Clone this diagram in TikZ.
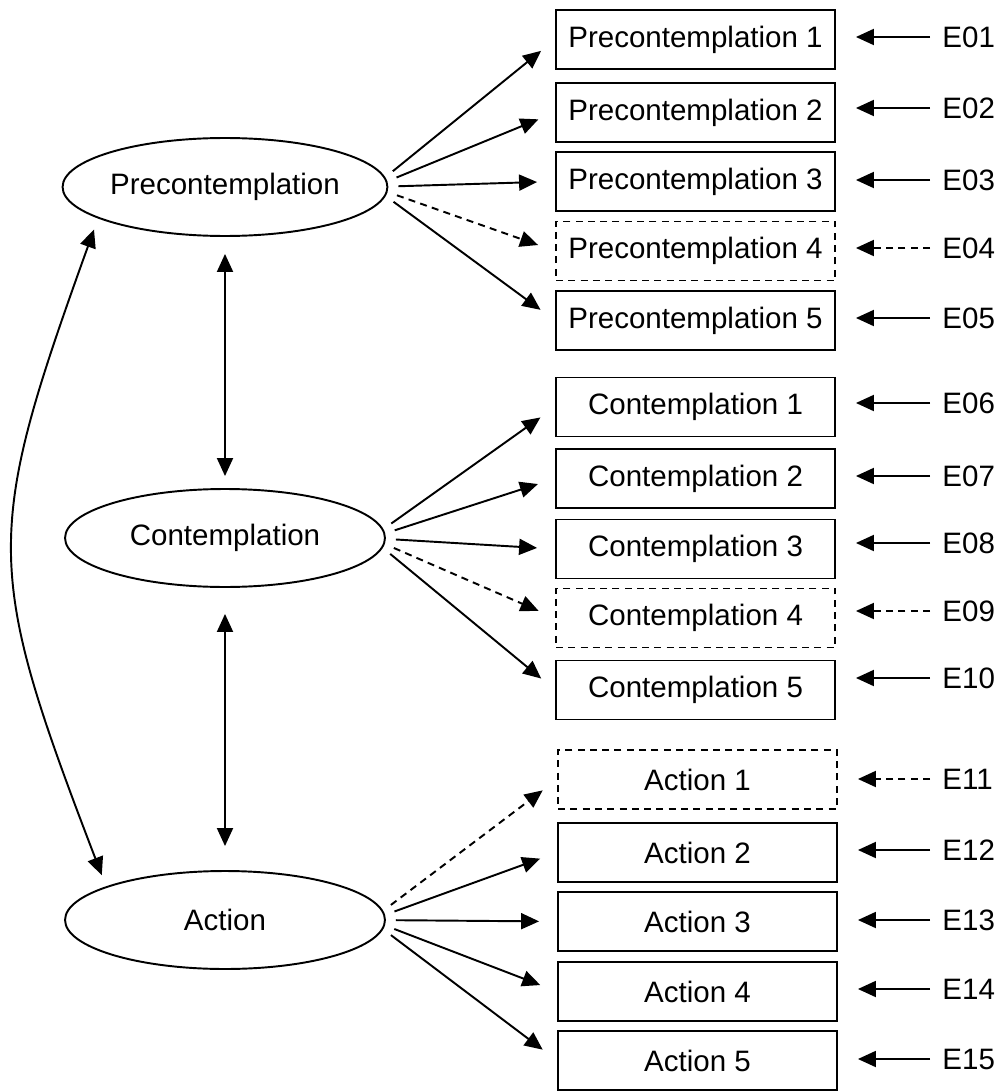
\documentclass[tikz,border=0pt]{standalone}
\usepackage{fontspec}
\setmainfont{Liberation Sans}
\usetikzlibrary{arrows.meta, calc, shapes.geometric}

\tikzset{
  every picture/.style={line width=1.1pt, >={Triangle[length=0.36cm, width=0.32cm]}},
  factor/.style={ellipse, draw, minimum width=6.4cm, minimum height=1.96cm, inner sep=0pt},
  item/.style={draw, minimum width=5.58cm, minimum height=1.18cm, inner sep=0pt},
  dsh/.style={dash pattern=on 4pt off 3pt},
  dashbox/.style={item, dsh},
  err/.style={anchor=west, inner sep=2pt},
  load/.style={->, shorten <=0.5cm, shorten >=0.36cm},
  resid/.style={->, shorten <=0.16cm, shorten >=0.4cm},
}

\begin{document}
\begin{tikzpicture}[x=0.02cm, y=-0.02cm, font=\fontsize{16.8}{20}\selectfont]
\path[use as bounding box] (0,0) rectangle (1000,1091);

\node[factor] (pre) at (225,187) {Precontemplation};
\node[factor] (con) at (225,538) {Contemplation};
\node[factor] (act) at (225,920) {Action};

\foreach \i/\y/\s in {1/39.5/item, 2/112.5/item, 3/181.5/item, 4/251/dashbox, 5/320.5/item}
  \node[\s] (p\i) at (695.5,\y) {Precontemplation \i};
\foreach \i/\y/\s in {1/407/item, 2/478.5/item, 3/549/item, 4/618/dashbox, 5/690/item}
  \node[\s] (c\i) at (695.5,\y) {Contemplation \i};
\foreach \i/\y/\s in {1/779.5/dashbox, 2/852.5/item, 3/921.5/item, 4/991.5/item, 5/1060.5/item}
  \node[\s] (a\i) at (697.5,\y) {Action \i};

\foreach \e/\b/\y/\s in {01/p1/37/solid, 02/p2/108/solid, 03/p3/180/solid, 04/p4/248/dsh, 05/p5/318/solid,
    06/c1/403/solid, 07/c2/476/solid, 08/c3/543/solid, 09/c4/611/dsh, 10/c5/678/solid,
    11/a1/779/dsh, 12/a2/850/solid, 13/a3/920/solid, 14/a4/989/solid, 15/a5/1059/solid}
{
  \node[err] (e\e) at (938,\y) {E\e};
  \draw[resid, \s] (e\e.west) -- (e\e.west -| \b.east);
}

\foreach \b/\s in {p1/solid, p2/solid, p3/solid, p4/dsh, p5/solid}
  \draw[load, \s] ([xshift=-0.3cm]pre.east) -- (\b.west);
\foreach \b/\s in {c1/solid, c2/solid, c3/solid, c4/dsh, c5/solid}
  \draw[load, \s] ([xshift=-0.3cm]con.east) -- (\b.west);
\foreach \b/\s in {a1/dsh, a2/solid, a3/solid, a4/solid, a5/solid}
  \draw[load, \s] ([xshift=-0.3cm]act.east) -- (\b.west);

\draw[<->, shorten <=0.34cm, shorten >=0.24cm] (pre.south) -- (con.north);
\draw[<->, shorten <=0.52cm, shorten >=0.48cm] (con.south) -- (act.north);
\draw[<->] ($(pre.198)!-0.4cm!(pre.center)$) .. controls (-16,535) and (-16,568) .. ($(act.160)!-0.4cm!(act.center)$);
\end{tikzpicture}
\end{document}
